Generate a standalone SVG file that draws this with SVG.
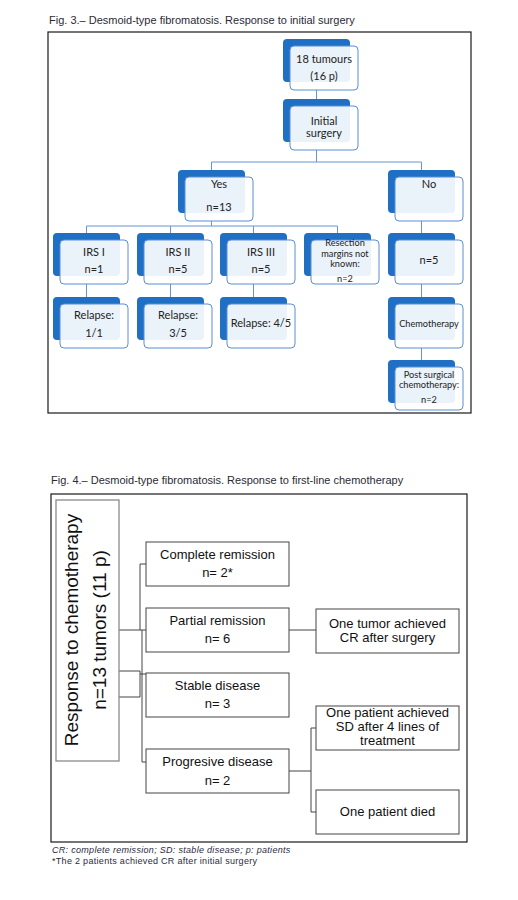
<svg xmlns="http://www.w3.org/2000/svg" width="518" height="900" viewBox="0 0 518 900">
<style>
.title{font-family:"Liberation Sans",Arial,sans-serif;font-size:11px;fill:#2a2a35}
.frame{fill:none;stroke:#1a1a1a;stroke-width:1.2}
.back{fill:#1F70C4}
.front{fill:#ffffff;fill-opacity:0.91;stroke:#5B8ED6;stroke-width:1}
.t3{font-family:Lato,"Open Sans",sans-serif;font-size:11px;fill:#222;text-anchor:middle}
.t3s{font-family:Lato,"Open Sans",sans-serif;font-size:9.2px;fill:#222;text-anchor:middle}
.c3{fill:none;stroke:#6795D4;stroke-width:1}
.b4{fill:#fff;stroke:#444;stroke-width:1}
.t4{font-family:"Liberation Sans",Arial,sans-serif;font-size:13px;fill:#111;text-anchor:middle}
.c4{fill:none;stroke:#444;stroke-width:1}
.big{font-family:"Liberation Sans",Arial,sans-serif;font-size:19px;fill:#111;text-anchor:middle}
.foot{font-family:"Liberation Sans",Arial,sans-serif;font-size:9px;letter-spacing:0.3px;fill:#2a2a40}
</style>
<rect width="518" height="900" fill="#fff"/>

<!-- Figure 3 -->
<text class="title" x="49" y="24">Fig. 3.– Desmoid-type fibromatosis. Response to initial surgery</text>
<rect class="frame" x="48" y="32" width="423" height="381"/>

<g id="connectors3">
<path class="c3" d="M316.5 90V99"/>
<path class="c3" d="M316.5 150V162M211.5 170V162H421.5V170"/>
<path class="c3" d="M211.5 221V226M86.5 233V226H337.5V233M170.5 226V233M253.5 226V233"/>
<path class="c3" d="M421.5 221V233"/>
<path class="c3" d="M86.5 284V297M170.5 284V297M253.5 284V297"/>
<path class="c3" d="M421.5 284V297M421.5 348V360"/>
</g>

<g id="n-tumours">
<rect class="back" x="283" y="39" width="67" height="43" rx="4"/>
<rect class="front" x="290" y="46" width="68" height="44" rx="4"/>
<text class="t3" x="324" y="63">18 tumours</text>
<text class="t3" x="324" y="80">(16 p)</text>
</g>
<g id="n-surgery">
<rect class="back" x="283" y="99" width="67" height="43" rx="4"/>
<rect class="front" x="290" y="106" width="68" height="44" rx="4"/>
<text class="t3" x="324" y="125">Initial</text>
<text class="t3" x="324" y="137">surgery</text>
</g>
<g id="n-yes">
<rect class="back" x="178" y="170" width="67" height="43" rx="4"/>
<rect class="front" x="185" y="177" width="68" height="44" rx="4"/>
<text class="t3" x="219" y="188">Yes</text>
<text class="t3" x="219" y="211">n=13</text>
</g>
<g id="n-no">
<rect class="back" x="388" y="170" width="67" height="43" rx="4"/>
<rect class="front" x="395" y="177" width="68" height="44" rx="4"/>
<text class="t3" x="429" y="188">No</text>
</g>
<g id="n-irs1">
<rect class="back" x="53" y="233" width="67" height="43" rx="4"/>
<rect class="front" x="60" y="240" width="68" height="44" rx="4"/>
<text class="t3" x="94" y="256">IRS I</text>
<text class="t3" x="94" y="273">n=1</text>
</g>
<g id="n-irs2">
<rect class="back" x="137" y="233" width="67" height="43" rx="4"/>
<rect class="front" x="144" y="240" width="68" height="44" rx="4"/>
<text class="t3" x="178" y="256">IRS II</text>
<text class="t3" x="178" y="273">n=5</text>
</g>
<g id="n-irs3">
<rect class="back" x="220" y="233" width="67" height="43" rx="4"/>
<rect class="front" x="227" y="240" width="68" height="44" rx="4"/>
<text class="t3" x="261" y="256">IRS III</text>
<text class="t3" x="261" y="273">n=5</text>
</g>
<g id="n-resection">
<rect class="back" x="304" y="233" width="67" height="43" rx="4"/>
<rect class="front" x="311" y="240" width="68" height="44" rx="4"/>
<text class="t3s" x="345" y="246">Resection</text>
<text class="t3s" x="345" y="257">margins not</text>
<text class="t3s" x="345" y="267">known:</text>
<text class="t3s" x="345" y="282">n=2</text>
</g>
<g id="n-no5">
<rect class="back" x="388" y="233" width="67" height="43" rx="4"/>
<rect class="front" x="395" y="240" width="68" height="44" rx="4"/>
<text class="t3" x="429" y="264">n=5</text>
</g>
<g id="n-rel1">
<rect class="back" x="53" y="297" width="67" height="43" rx="4"/>
<rect class="front" x="60" y="304" width="68" height="44" rx="4"/>
<text class="t3" x="94" y="319">Relapse:</text>
<text class="t3" x="94" y="337">1/1</text>
</g>
<g id="n-rel2">
<rect class="back" x="137" y="297" width="67" height="43" rx="4"/>
<rect class="front" x="144" y="304" width="68" height="44" rx="4"/>
<text class="t3" x="178" y="319">Relapse:</text>
<text class="t3" x="178" y="337">3/5</text>
</g>
<g id="n-rel3">
<rect class="back" x="220" y="297" width="67" height="43" rx="4"/>
<rect class="front" x="227" y="304" width="68" height="44" rx="4"/>
<text class="t3" x="261" y="327">Relapse: 4/5</text>
</g>
<g id="n-chemo">
<rect class="back" x="388" y="297" width="67" height="43" rx="4"/>
<rect class="front" x="395" y="304" width="68" height="44" rx="4"/>
<text class="t3s" x="429" y="327">Chemotherapy</text>
</g>
<g id="n-post">
<rect class="back" x="388" y="360" width="67" height="43" rx="4"/>
<rect class="front" x="395" y="367" width="68" height="43" rx="4"/>
<text class="t3s" x="429" y="378">Post surgical</text>
<text class="t3s" x="429" y="388">chemotherapy:</text>
<text class="t3s" x="429" y="403">n=2</text>
</g>

<!-- Figure 4 -->
<text class="title" x="51" y="484">Fig. 4.– Desmoid-type fibromatosis. Response to first-line chemotherapy</text>
<rect class="frame" x="51" y="494" width="416" height="348"/>

<g id="connectors4">
<path class="c4" d="M119 630H140V564H146"/>
<path class="c4" d="M140 630H142V630H146"/>
<path class="c4" d="M119 671H140V674H146"/>
<path class="c4" d="M119 697H140V674"/>
<path class="c4" d="M142 630V762H146"/>
<path class="c4" d="M289 630H316"/>
<path class="c4" d="M289 771H311M316 728H311V812H316"/>
</g>

<g id="n-response">
<rect x="56" y="500" width="63" height="261" fill="#fff" stroke="#8a8a8a" stroke-width="1.3"/>
<text class="big" transform="translate(78 630) rotate(-90)">Response to chemotherapy</text>
<text class="big" transform="translate(106 630) rotate(-90)">n=13 tumors (11 p)</text>
</g>
<g id="n-cr">
<rect class="b4" x="146" y="542" width="143" height="44"/>
<text class="t4" x="217.5" y="559">Complete remission</text>
<text class="t4" x="217.5" y="577">n= 2*</text>
</g>
<g id="n-pr">
<rect class="b4" x="146" y="608" width="143" height="44"/>
<text class="t4" x="217.5" y="625">Partial remission</text>
<text class="t4" x="217.5" y="643">n= 6</text>
</g>
<g id="n-sd">
<rect class="b4" x="146" y="673" width="143" height="44"/>
<text class="t4" x="217.5" y="690">Stable disease</text>
<text class="t4" x="217.5" y="708">n= 3</text>
</g>
<g id="n-pd">
<rect class="b4" x="146" y="749" width="143" height="44"/>
<text class="t4" x="217.5" y="766">Progresive disease</text>
<text class="t4" x="217.5" y="785">n= 2</text>
</g>
<g id="n-onetumor">
<rect class="b4" x="316" y="609" width="143" height="44"/>
<text class="t4" x="387.5" y="628">One tumor achieved</text>
<text class="t4" x="387.5" y="642">CR after surgery</text>
</g>
<g id="n-onesd">
<rect class="b4" x="316" y="706" width="143" height="44"/>
<text class="t4" x="387.5" y="717">One patient achieved</text>
<text class="t4" x="387.5" y="731">SD after 4 lines of</text>
<text class="t4" x="387.5" y="745">treatment</text>
</g>
<g id="n-died">
<rect class="b4" x="316" y="790" width="143" height="44"/>
<text class="t4" x="387.5" y="816">One patient died</text>
</g>

<text class="foot" x="52" y="853" font-style="italic">CR: complete remission; SD: stable disease; p: patients</text>
<text class="foot" x="52" y="864">*The 2 patients achieved CR after initial surgery</text>
</svg>
